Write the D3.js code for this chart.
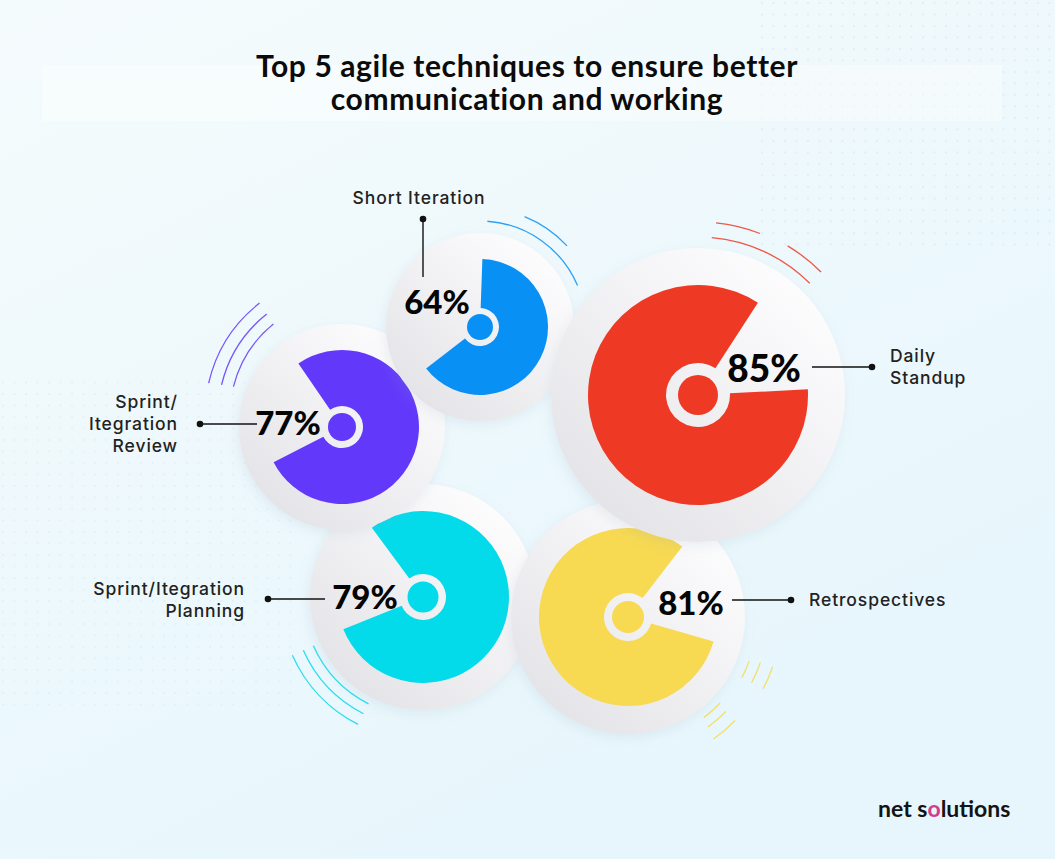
<!DOCTYPE html>
<html>
<head>
<meta charset="utf-8">
<script src="https://cdn.jsdelivr.net/npm/d3@7"></script>
<style>
  html, body { margin: 0; padding: 0; background: #eef8fb; }
  svg { display: block; }
</style>
</head>
<body>
<div id="chart"></div>
<script>
// values
const techniques = ["Short Iteration", "Daily Standup", "Sprint/Itegration Review", "Sprint/Itegration Planning", "Retrospectives"];
const shares = [64, 85, 77, 79, 81];
const labelLines = [["Short Iteration"], ["Daily", "Standup"], ["Sprint/", "Itegration", "Review"], ["Sprint/Itegration", "Planning"], ["Retrospectives"]];
const titleLines = ["Top 5 agile techniques to ensure better", "communication and working"];

// colours
const colors = ["#0990f5", "#ee3a25", "#6239fb", "#03dbeb", "#f7d952"];

// layout: disc centre / sizes, sector rotation (deg), label placement
const layout = [
  { cx: 480, cy: 327, disc: 94, outer: 68, inner: 19, dot: 13, rot: 2, fs: 33,
    pct: [437, 314], line: [[423, 219], [423, 277]], dotAt: 0, lab: [419, 204], anchor: "middle", arcs: [[106, 4, 67], [119, 22, 47]] },
  { cx: 698, cy: 395, disc: 147, outer: 110, inner: 32, dot: 20, rot: 87, fs: 37,
    pct: [764, 382], line: [[812, 367], [872, 367]], dotAt: 1, lab: [890, 362], anchor: "start", arcs: [[158, 5, 45], [173, 6, 21], [174, 31, 45]] },
  { cx: 342, cy: 427, disc: 103, outer: 77, inner: 21, dot: 14, rot: -34.5, fs: 33,
    pct: [288, 435], line: [[200, 424], [257, 424]], dotAt: 0, lab: [178, 408], anchor: "end", arcs: [], arcCenter: [347, 415] },
  { cx: 423, cy: 597, disc: 113, outer: 86, inner: 23, dot: 15.5, rot: -36.5, fs: 33,
    pct: [365, 609], line: [[268, 599], [325, 599]], dotAt: 0, lab: [245, 595], anchor: "end", arcs: [[120, 207, 246], [131, 207, 246], [143, 207, 246]] },
  { cx: 628, cy: 617, disc: 117, outer: 89, inner: 24, dot: 16, rot: 106, fs: 33,
    pct: [691, 615], line: [[732, 600], [791, 600]], dotAt: 1, lab: [809, 606], anchor: "start",
    arcs: [[129, 110, 118], [140, 109, 118], [153, 109, 118], [126, 133, 143], [136, 134, 144], [149, 134, 145]] }
];
layout[2].arcs = [[117, 284, 321], [129, 283.5, 321.5], [142, 283, 322]];

// drawing order, back to front
const drawOrder = [3, 2, 0, 4, 1];

const W = 1055, H = 859;
const svg = d3.select("#chart").append("svg").attr("width", W).attr("height", H);
const defs = svg.append("defs");

const bg = defs.append("linearGradient").attr("id", "bg").attr("x1", 0).attr("y1", 0).attr("x2", 0.6).attr("y2", 1);
bg.append("stop").attr("offset", "0%").attr("stop-color", "#f5fbfd");
bg.append("stop").attr("offset", "100%").attr("stop-color", "#e6f6fc");

const discGrad = defs.append("linearGradient").attr("id", "disc").attr("x1", 0.85).attr("y1", 0.1).attr("x2", 0.15).attr("y2", 0.9);
discGrad.append("stop").attr("offset", "0%").attr("stop-color", "#fdfdfe");
discGrad.append("stop").attr("offset", "100%").attr("stop-color", "#e4e4e8");

const shadow = defs.append("filter").attr("id", "shadow").attr("x", "-20%").attr("y", "-20%").attr("width", "140%").attr("height", "140%");
shadow.append("feDropShadow").attr("dx", -2).attr("dy", 4).attr("stdDeviation", 6)
  .attr("flood-color", "#8aa0b0").attr("flood-opacity", 0.15);

const dots = defs.append("pattern").attr("id", "dots").attr("width", 11.5).attr("height", 11.5).attr("patternUnits", "userSpaceOnUse");
dots.append("circle").attr("cx", 3).attr("cy", 3).attr("r", 1.1).attr("fill", "#dde9ef");

svg.append("rect").attr("width", W).attr("height", H).attr("fill", "url(#bg)");
svg.append("rect").attr("x", 752).attr("y", 0).attr("width", 303).attr("height", 250).attr("fill", "url(#dots)").attr("opacity", 0.8);
svg.append("rect").attr("x", 0).attr("y", 380).attr("width", 300).attr("height", 330).attr("fill", "url(#dots)").attr("opacity", 0.6);
svg.append("rect").attr("x", 42).attr("y", 65).attr("width", 960).attr("height", 56).attr("fill", "#fbfdfe").attr("opacity", 0.5);

// title
svg.append("g").selectAll("text").data(titleLines).join("text")
  .attr("x", 527).attr("y", (d, i) => 77 + i * 33)
  .attr("text-anchor", "middle")
  .attr("font-family", "Lato, sans-serif").attr("font-weight", 700).attr("font-size", 30)
  .attr("letter-spacing", 0.6)
  .attr("fill", "#0b0b0b")
  .text(d => d);

const angle = d3.scaleLinear().domain([0, 100]).range([0, 2 * Math.PI]);
const rad = d => d * Math.PI / 180;

const items = drawOrder.map(i => ({ i, name: techniques[i], v: shares[i], L: layout[i], color: colors[i] }));

// decorative ripples
const ripples = svg.append("g").attr("fill", "none");
items.forEach(d => {
  const c = d.L.arcCenter || [d.L.cx, d.L.cy];
  d.L.arcs.forEach(a => {
    const p = d3.path();
    p.arc(c[0], c[1], a[0], rad(a[1] - 90), rad(a[2] - 90));
    ripples.append("path").attr("d", p.toString())
      .attr("stroke", d.color).attr("stroke-width", 1.3).attr("opacity", 0.85);
  });
});

const sector = d3.arc()
  .innerRadius(d => d.L.inner)
  .outerRadius(d => d.L.outer)
  .startAngle(d => rad(d.L.rot))
  .endAngle(d => rad(d.L.rot) + angle(d.v));

const g = svg.append("g").selectAll("g").data(items).join("g")
  .attr("transform", d => `translate(${d.L.cx},${d.L.cy})`);

g.append("circle").attr("r", d => d.L.disc).attr("fill", "url(#disc)").attr("filter", "url(#shadow)");
g.append("path").attr("d", sector).attr("fill", d => d.color);
g.append("circle").attr("r", d => d.L.dot).attr("fill", d => d.color);

// percentages, leaders and labels
const ann = svg.append("g");
items.forEach(d => {
  const L = d.L;
  ann.append("text").attr("x", L.pct[0]).attr("y", L.pct[1])
    .attr("text-anchor", "middle")
    .attr("font-family", "Lato, sans-serif").attr("font-weight", 900).attr("font-size", L.fs)
    .attr("fill", "#050505").text(d.v + "%");
  ann.append("line")
    .attr("x1", L.line[0][0]).attr("y1", L.line[0][1]).attr("x2", L.line[1][0]).attr("y2", L.line[1][1])
    .attr("stroke", "#111").attr("stroke-width", 1.4);
  const end = L.line[L.dotAt];
  ann.append("circle").attr("cx", end[0]).attr("cy", end[1]).attr("r", 3.3).attr("fill", "#111");
  ann.append("text").attr("x", L.lab[0]).attr("y", L.lab[1])
    .attr("text-anchor", L.anchor)
    .attr("font-family", "Inter, sans-serif").attr("font-weight", 500).attr("font-size", 17.5)
    .attr("letter-spacing", 0.9)
    .attr("fill", "#222")
    .selectAll("tspan").data(labelLines[d.i]).join("tspan")
    .attr("x", L.lab[0]).attr("dy", (t, k) => k === 0 ? 0 : 22)
    .text(t => t);
});

// brand mark
const brand = svg.append("text").attr("x", 878).attr("y", 817)
  .attr("font-family", "Lato, sans-serif").attr("font-weight", 700).attr("font-size", 23)
  .attr("fill", "#141414");
brand.append("tspan").text("net s");
brand.append("tspan").attr("fill", "#d23c8c").text("o");
brand.append("tspan").text("lutions");
</script>
</body>
</html>
